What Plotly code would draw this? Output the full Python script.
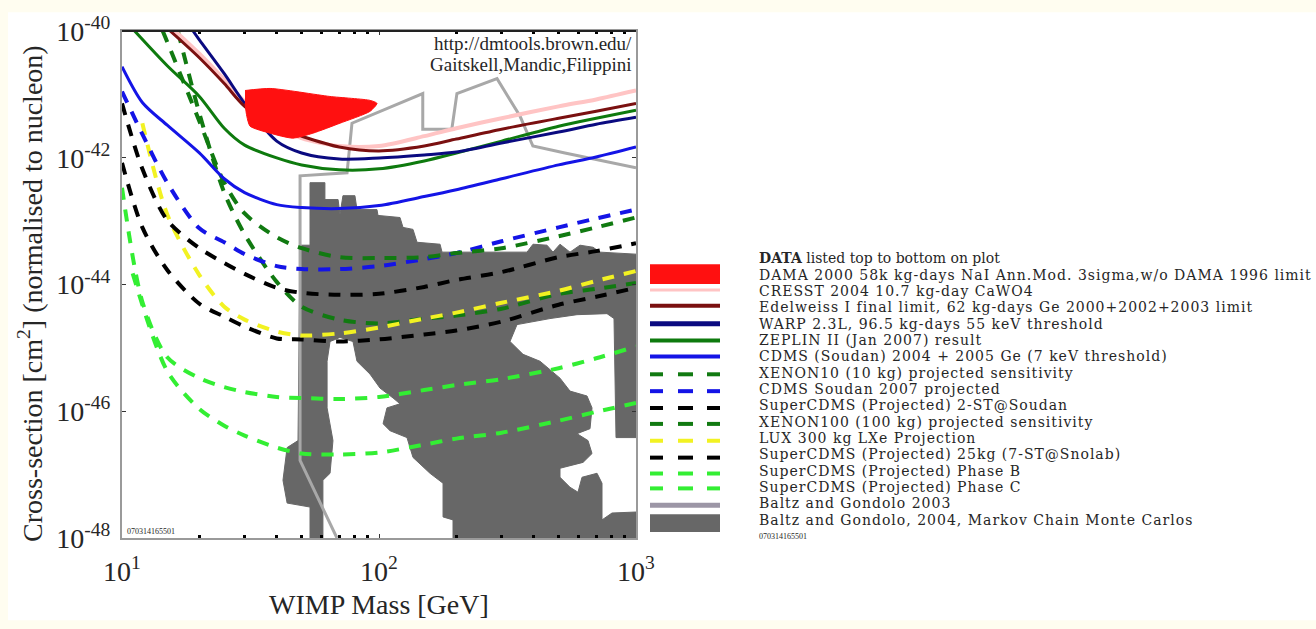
import plotly.graph_objects as go

# ---------------- data (WIMP mass in GeV, cross-section in cm^2) ----------------
cdms_mass = [10, 12, 15, 20, 25, 30, 40, 50, 70, 100, 150, 200, 300, 500, 700, 1000]
cdms_xsec = [2.74e-41, 7.46e-42, 3.26e-42, 1.19e-42, 4.66e-43, 2.81e-43, 1.82e-43, 1.64e-43,
             1.58e-43, 1.76e-43, 2.44e-43, 3.13e-43, 4.66e-43, 7.71e-43, 1.03e-42, 1.48e-42]

zeplin_mass = [11.2, 15, 20, 25, 30, 40, 50, 70, 100, 150, 200, 300, 500, 700, 1000]
zeplin_xsec = [1.0e-40, 2.83e-41, 9.27e-42, 2.92e-42, 1.58e-42, 9.93e-43, 7.71e-43, 6.44e-43,
               6.68e-43, 8.91e-43, 1.19e-42, 1.83e-42, 3.15e-42, 4.20e-42, 5.60e-42]

warp_mass = [18.9, 20, 25, 30, 40, 50, 70, 100, 150, 200, 300, 500, 700, 1000]
warp_xsec = [1.0e-40, 7.23e-41, 2.12e-41, 7.21e-42, 1.83e-42, 1.19e-42, 9.57e-43, 9.93e-43,
             1.11e-42, 1.23e-42, 1.71e-42, 2.54e-42, 3.38e-42, 4.35e-42]

edel_mass = [15.4, 20, 25, 30, 40, 50, 70, 100, 150, 200, 300, 500, 700, 1000]
edel_xsec = [1.0e-40, 3.78e-41, 1.48e-41, 6.47e-42, 3.03e-42, 2.19e-42, 1.48e-42, 1.28e-42,
             1.53e-42, 1.97e-42, 2.82e-42, 4.20e-42, 5.40e-42, 7.21e-42]

cresst_mass = [16.1, 20, 25, 30, 40, 50, 70, 100, 150, 200, 300, 500, 700, 1000]
cresst_xsec = [1.0e-40, 4.37e-41, 1.71e-41, 7.74e-42, 3.26e-42, 2.04e-42, 1.53e-42, 1.53e-42,
               2.19e-42, 2.92e-42, 4.20e-42, 6.47e-42, 8.32e-42, 1.15e-41]

xenon10_mass = [14.4, 15, 20, 25, 30, 40, 50, 70, 100, 150, 200, 300, 500, 700, 1000]
xenon10_xsec = [1.0e-40, 6.73e-41, 3.77e-42, 4.04e-43, 1.32e-43, 5.56e-44, 3.74e-44, 2.70e-44,
                2.61e-44, 2.70e-44, 3.13e-44, 3.74e-44, 5.77e-44, 7.96e-44, 1.14e-43]

cdms07_mass = [10, 12, 15, 20, 25, 30, 40, 50, 70, 100, 150, 200, 300, 500, 700, 1000]
cdms07_xsec = [1.11e-41, 2.36e-42, 4.04e-43, 7.69e-44, 4.64e-44, 3.01e-44, 1.95e-44, 1.75e-44,
               1.75e-44, 1.95e-44, 2.52e-44, 3.13e-44, 4.81e-44, 7.96e-44, 1.10e-43, 1.52e-43]

scdms2_mass = [10, 12, 15, 20, 25, 30, 40, 50, 70, 100, 150, 200, 300, 500, 700, 1000]
scdms2_xsec = [7.21e-42, 6.68e-43, 1.03e-43, 3.74e-44, 2.18e-44, 1.47e-44, 8.85e-45, 7.39e-45,
               6.87e-45, 7.13e-45, 9.16e-45, 1.18e-44, 1.57e-44, 2.70e-44, 3.36e-44, 4.48e-44]

xenon100_mass = [16.5, 20, 25, 30, 40, 50, 70, 100, 150, 200, 300, 500, 700, 1000]
xenon100_xsec = [1.0e-40, 5.02e-42, 2.81e-43, 6.19e-44, 1.10e-44, 4.46e-45, 2.79e-45, 2.42e-45,
                 2.90e-45, 3.23e-45, 4.15e-45, 7.13e-45, 8.53e-45, 1.06e-44]

lux_mass = [12, 15, 20, 25, 30, 40, 50, 70, 100, 150, 200, 300, 500, 700, 1000]
lux_xsec = [3.51e-42, 1.27e-43, 1.41e-44, 4.46e-45, 2.79e-45, 1.81e-45, 1.57e-45, 1.69e-45,
            2.09e-45, 2.90e-45, 3.60e-45, 5.15e-45, 7.94e-45, 1.14e-44, 1.63e-44]

scdms25_mass = [10, 12, 15, 20, 25, 30, 40, 50, 70, 100, 150, 200, 300, 500, 700, 1000]
scdms25_xsec = [8.30e-43, 7.96e-44, 1.69e-44, 4.97e-45, 3.11e-45, 2.17e-45, 1.41e-45, 1.36e-45,
                1.26e-45, 1.36e-45, 1.63e-45, 1.88e-45, 2.60e-45, 4.80e-45, 6.40e-45, 8.85e-45]

phaseb_mass = [10, 12, 15, 20, 25, 30, 40, 50, 70, 100, 150, 200, 300, 500, 700, 1000]
phaseb_xsec = [3.37e-43, 5.35e-45, 7.10e-46, 3.33e-46, 2.41e-46, 2.01e-46, 1.68e-46, 1.62e-46,
               1.56e-46, 1.68e-46, 2.16e-46, 2.59e-46, 3.21e-46, 4.78e-46, 6.85e-46, 1.05e-45]

phasec_mass = [11, 15, 20, 25, 30, 40, 50, 70, 100, 150, 200, 300, 500, 700, 1000]
phasec_xsec = [1.5e-44, 4.29e-46, 1.09e-46, 5.92e-47, 4.12e-47, 2.67e-47, 2.15e-47, 2.08e-47,
               2.23e-47, 2.98e-47, 3.70e-47, 4.59e-47, 7.08e-47, 9.79e-47, 1.35e-46]

dama_mass = [30.1, 37.7, 64.4, 92.3, 98.2, 92.3, 70.5, 55.3, 46.2, 37.7, 31.5, 30.6, 30.1]
dama_xsec = [1.15e-41, 1.24e-41, 9.27e-42, 8.04e-42, 7.21e-42, 5.40e-42, 3.51e-42, 2.44e-42,
             2.04e-42, 2.44e-42, 3.15e-42, 4.51e-42, 7.21e-42]

baltz03_mass = [68.6, 49.3, 49.3, 75.1, 78.5, 148, 148, 192, 201, 288, 354, 397, 529, 1000]
baltz03_xsec = [1e-48, 1.67e-47, 5.19e-43, 5.78e-43, 3.51e-42, 1.03e-41, 2.82e-42, 2.82e-42,
                1.03e-41, 1.77e-41, 4.51e-42, 1.53e-42, 1.19e-42, 6.92e-43]

mcmc_mass = [53.9, 61.6, 61.6, 62.8, 69.3, 70.5, 72.4, 80.6, 82.1, 98.2, 99.1, 120.7, 124.0,
             135.6, 140.6, 172.8, 175.9, 376.7, 397.4, 450.5, 475.4, 506.1, 553.6, 605.5,
             680.5, 724.4, 1000, 1000, 836.1, 821.2, 771.3, 589.4, 462.8, 344.4, 323.4, 363.4,
             423.1, 506.1, 553.6, 644.8, 674.4, 662.4, 589.4, 650.6, 674.4, 622.1, 506.1, 506.1,
             553.6, 594.7, 616.5, 705.2, 737.5, 737.5, 806.5, 1000, 1000, 194.1, 194.1, 177.5,
             177.5, 157.9, 135.6, 128.5, 110.4, 103.7, 107.4, 120.7, 113.4, 100.9, 92.3, 82.1,
             79.2, 70.5, 64.5, 62.8, 62.8, 66.2, 64.5, 60.5, 60.5, 53.9, 53.9, 43.9, 42.3, 43.9,
             48.4, 49.3, 53.9, 53.9]
mcmc_xsec = [4.04e-43, 4.04e-43, 2.19e-43, 2.19e-43, 2.19e-43, 1.27e-43, 2.52e-43, 2.52e-43,
             1.52e-43, 1.52e-43, 1.23e-43, 1.14e-43, 7.96e-44, 7.41e-44, 4.64e-44, 4.32e-44,
             3.24e-44, 3.24e-44, 4.32e-44, 4.17e-44, 3.24e-44, 4.32e-44, 3.24e-44, 4.17e-44,
             3.87e-44, 3.24e-44, 3.01e-44, 3.84e-47, 3.84e-47, 2.90e-45, 3.47e-45, 3.34e-45,
             2.90e-45, 2.33e-45, 1.26e-45, 7.91e-46, 6.15e-46, 3.33e-46, 2.08e-46, 1.74e-46,
             1.13e-46, 5.31e-47, 4.43e-47, 3.44e-47, 2.15e-47, 1.56e-47, 1.26e-47, 9.08e-48,
             6.32e-48, 5.28e-48, 9.08e-48, 1.05e-47, 7.31e-48, 1.93e-48, 2.48e-48, 2.57e-48,
             1e-48, 1e-48, 1.93e-48, 2.15e-48, 7.31e-48, 1.05e-47, 1.87e-47, 3.84e-47, 4.93e-47,
             6.35e-47, 1.13e-46, 1.31e-46, 1.62e-46, 2.32e-46, 3.85e-46, 6.15e-46, 1.26e-45,
             1.46e-45, 1.26e-45, 6.15e-46, 1.13e-46, 3.44e-47, 1.05e-47, 8.15e-48, 1e-48, 1e-48,
             3.08e-48, 3.56e-48, 8.15e-48, 2.67e-47, 3.44e-47, 4.17e-44, 4.17e-44, 4.04e-43]

x_tick_vals = [10, 100, 1000]
x_tick_text = ["10<sup>1</sup>", "10<sup>2</sup>", "10<sup>3</sup>"]
y_tick_vals = [1e-48, 1e-46, 1e-44, 1e-42, 1e-40]
y_tick_text = ["10<sup>-48</sup>", "10<sup>-46</sup>", "10<sup>-44</sup>", "10<sup>-42</sup>", "10<sup>-40</sup>"]
x_minor_vals = [20, 30, 40, 50, 60, 70, 80, 90, 200, 300, 400, 500, 600, 700, 800, 900]

legend_header = "<b>DATA</b> listed top to bottom on plot"
legend_labels = [
    "DAMA 2000 58k kg-days NaI Ann.Mod. 3sigma,w/o DAMA 1996 limit",
    "CRESST 2004 10.7 kg-day CaWO4",
    "Edelweiss I final limit, 62 kg-days Ge 2000+2002+2003 limit",
    "WARP 2.3L, 96.5 kg-days 55 keV threshold",
    "ZEPLIN II (Jan 2007) result",
    "CDMS (Soudan) 2004 + 2005 Ge (7 keV threshold)",
    "XENON10 (10 kg) projected sensitivity",
    "CDMS Soudan 2007 projected",
    "SuperCDMS (Projected) 2-ST@Soudan",
    "XENON100 (100 kg) projected sensitivity",
    "LUX 300 kg LXe Projection",
    "SuperCDMS (Projected) 25kg (7-ST@Snolab)",
    "SuperCDMS (Projected) Phase B",
    "SuperCDMS (Projected) Phase C",
    "Baltz and Gondolo 2003",
    "Baltz and Gondolo, 2004, Markov Chain Monte Carlos",
]
plot_id = "070314165501"

# ---------------- styles ----------------
FONT = "Liberation Serif"
LEGFONT = "DejaVu Serif"
TXT = "#262626"
RED, PINK, MAROON, NAVY = "#ff1010", "#ffc4c4", "#7a1010", "#0a0a80"
ZGREEN, BLUE, DGREEN, BLACK = "#0e7a0e", "#1414e6", "#117a11", "#000000"
YELLOW, LGREEN, LGRAY, DGRAY = "#f2f222", "#33ee33", "#a8a8a8", "#676767"

W, H = 1316, 629
PL, PR, PT, PB = 122, 636, 27, 538   # plot area in pixels


def fx(p):
    return (p - PL) / (PR - PL)


def fy(p):
    return (PB - p) / (PB - PT)


fig = go.Figure()

# Baltz & Gondolo 2004 MCMC region
fig.add_trace(go.Scatter(x=mcmc_mass, y=mcmc_xsec, mode="lines", fill="toself",
                         fillcolor=DGRAY, line=dict(color=DGRAY, width=1)))
# Baltz & Gondolo 2003
fig.add_trace(go.Scatter(x=baltz03_mass, y=baltz03_xsec, mode="lines",
                         line=dict(color=LGRAY, width=3)))

dash_pat = "12px,10px"
curves = [
    (phasec_mass, phasec_xsec, LGREEN, 4, dash_pat),
    (phaseb_mass, phaseb_xsec, LGREEN, 4, dash_pat),
    (scdms25_mass, scdms25_xsec, BLACK, 4, dash_pat),
    (xenon100_mass, xenon100_xsec, DGREEN, 4, dash_pat),
    (lux_mass, lux_xsec, YELLOW, 4, dash_pat),
    (scdms2_mass, scdms2_xsec, BLACK, 4, dash_pat),
    (cdms07_mass, cdms07_xsec, BLUE, 4, dash_pat),
    (xenon10_mass, xenon10_xsec, DGREEN, 4, dash_pat),
    (cdms_mass, cdms_xsec, BLUE, 3, "solid"),
    (zeplin_mass, zeplin_xsec, ZGREEN, 3, "solid"),
    (cresst_mass, cresst_xsec, PINK, 4, "solid"),
    (warp_mass, warp_xsec, NAVY, 3, "solid"),
    (edel_mass, edel_xsec, MAROON, 3, "solid"),
]
for m, s, c, w, d in curves:
    fig.add_trace(go.Scatter(x=m, y=s, mode="lines",
                             line=dict(color=c, width=w, dash=d, shape="spline", smoothing=0.8)))

# DAMA region
fig.add_trace(go.Scatter(x=dama_mass, y=dama_xsec, mode="lines", fill="toself",
                         fillcolor=RED, line=dict(color=RED, width=1, shape="spline", smoothing=0.6)))

fig.update_traces(hoverinfo="skip", showlegend=False)

axis_common = dict(type="log", showgrid=False, zeroline=False, showline=True,
                   linecolor="#9a9a9a", linewidth=2, mirror="ticks", ticks="inside",
                   tickcolor="#333", ticklen=4, tickwidth=1,
                   tickfont=dict(family=FONT, size=28, color=TXT))
fig.update_xaxes(range=[1, 3], tickvals=x_tick_vals, ticktext=x_tick_text, ticklabelstandoff=7,
                 minor=dict(tickvals=x_minor_vals, ticks="inside", ticklen=3, tickwidth=3,
                            tickcolor="black"),
                 **axis_common)
fig.update_yaxes(range=[-48, -40], tickvals=y_tick_vals, ticktext=y_tick_text, ticklabelstandoff=4,
                 **axis_common)

shapes = []
# white page behind chart
shapes.append(dict(type="rect", xref="paper", yref="paper", x0=fx(8), x1=fx(1316),
                   y0=fy(621), y1=fy(8), fillcolor="white", line=dict(width=0), layer="below"))
# dark top frame
shapes.append(dict(type="line", xref="paper", yref="paper", x0=0, x1=1, y0=1, y1=1,
                   line=dict(color="#222", width=2)))

# ---------------- legend (drawn like the original) ----------------
SX0, SX1 = 650, 720
ROW0, ROWSTEP = 256, 16.47
swatch_rows = [272, 288, 304, 322, 339, 355, 373, 390, 407, 423, 440, 457, 473, 488, 505, 523]
swatch_kind = ["rect", "line", "line", "line", "line", "line", "dash", "dash", "dash", "dash",
               "dash", "dash", "dash", "dash", "line", "rect"]
swatch_color = [RED, PINK, MAROON, NAVY, ZGREEN, BLUE, DGREEN, BLUE, BLACK, DGREEN, YELLOW,
                BLACK, LGREEN, LGREEN, "#9c96a6", DGRAY]
swatch_width = [20, 3, 4, 5, 4, 4, 4, 4, 4, 4, 4, 4, 4, 4, 5, 18]
dash_segments = [(650, 663), (678, 693), (707, 720)]

for k, yrow, col, w in zip(swatch_kind, swatch_rows, swatch_color, swatch_width):
    if k == "rect":
        shapes.append(dict(type="rect", xref="paper", yref="paper", x0=fx(SX0), x1=fx(SX1),
                           y0=fy(yrow + w / 2), y1=fy(yrow - w / 2), fillcolor=col,
                           line=dict(width=0)))
    elif k == "line":
        shapes.append(dict(type="line", xref="paper", yref="paper", x0=fx(SX0), x1=fx(SX1),
                           y0=fy(yrow), y1=fy(yrow), line=dict(color=col, width=w)))
    else:
        for a, b in dash_segments:
            shapes.append(dict(type="line", xref="paper", yref="paper", x0=fx(a), x1=fx(b),
                               y0=fy(yrow), y1=fy(yrow), line=dict(color=col, width=w)))

annotations = []
annotations.append(dict(x=fx(757), y=fy(ROW0), text=legend_header,
                        font=dict(family=LEGFONT, size=14, color=TXT)))
for i, lab in enumerate(legend_labels, start=1):
    annotations.append(dict(x=fx(757), y=fy(ROW0 + i * ROWSTEP),
                            text='<span style="letter-spacing:1px">' + lab + '</span>',
                            font=dict(family=LEGFONT, size=14, color=TXT)))
annotations.append(dict(x=fx(757), y=fy(ROW0 + (len(legend_labels) + 1) * ROWSTEP), text=plot_id,
                        font=dict(family=FONT, size=8, color=TXT)))
for a in annotations:
    a.update(xref="paper", yref="paper", xanchor="left", yanchor="middle", showarrow=False)

# in-plot texts
annotations.append(dict(x=fx(634), y=fy(40), text="http://dmtools.brown.edu/", xref="paper",
                        yref="paper", xanchor="right", yanchor="middle", showarrow=False,
                        font=dict(family=FONT, size=19, color=TXT)))
annotations.append(dict(x=fx(634), y=fy(61), text="Gaitskell,Mandic,Filippini", xref="paper",
                        yref="paper", xanchor="right", yanchor="middle", showarrow=False,
                        font=dict(family=FONT, size=19, color=TXT)))
annotations.append(dict(x=fx(125), y=fy(531), text=plot_id, xref="paper", yref="paper",
                        xanchor="left", yanchor="middle", showarrow=False,
                        font=dict(family=FONT, size=8, color=TXT)))
# axis titles
annotations.append(dict(x=fx(379), y=fy(605), text="WIMP Mass [GeV]", xref="paper", yref="paper",
                        xanchor="center", yanchor="middle", showarrow=False,
                        font=dict(family=FONT, size=28, color=TXT)))
annotations.append(dict(x=fx(31), y=fy(292), text="Cross-section [cm<sup>2</sup>] (normalised to nucleon)",
                        xref="paper", yref="paper", xanchor="center", yanchor="middle",
                        showarrow=False, textangle=-90, font=dict(family=FONT, size=28, color=TXT)))

fig.update_layout(width=W, height=H, autosize=False,
                  margin=dict(l=PL, r=W - PR, t=PT, b=H - PB, pad=0),
                  paper_bgcolor="#fffdf0", plot_bgcolor="white",
                  shapes=shapes, annotations=annotations, showlegend=False)

fig.write_html("out.html")
